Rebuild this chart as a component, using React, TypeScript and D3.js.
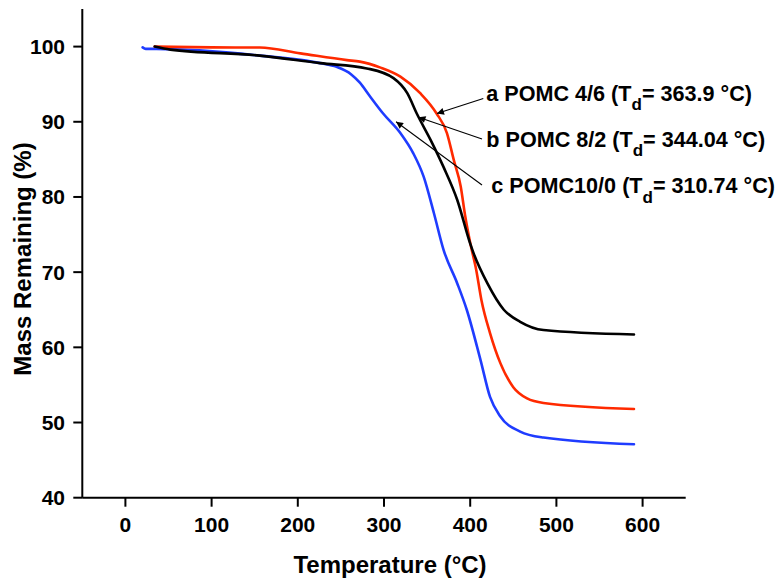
import React from "react";
import * as d3 from "d3";

const W = 783;
const H = 582;

// POMC 4/6 (red)
const tempA = [34, 100, 156, 203, 257, 272, 296, 319, 342, 361, 373, 381, 389, 394, 400, 407, 413, 423, 435, 450, 466, 485, 590];
const massA = [100, 99.9, 99.87, 99.1, 98.2, 98.0, 97.2, 96.0, 93.8, 91.1, 88.5, 84.9, 81.4, 77.6, 73.9, 70.3, 66.3, 61.9, 57.9, 54.7, 53.2, 52.6, 51.8];

// POMC 8/2 (black)
const tempB = [34, 52, 156, 226, 280, 311, 327, 338, 354, 369, 385, 400, 404, 420, 439, 458, 485, 590];
const massB = [100, 99.6, 98.8, 97.8, 97.1, 95.8, 93.8, 91.1, 87.6, 84.0, 79.6, 73.8, 72.5, 68.5, 65.0, 63.4, 62.3, 61.7];

// POMC10/0 (blue)
const tempC = [20, 23.6, 36, 156, 226, 245, 262, 272, 283, 299, 319, 334, 346, 358, 369, 385, 396, 412, 423, 435, 458, 485, 590];
const massC = [99.9, 99.7, 99.7, 98.8, 97.8, 97.3, 96.3, 95.2, 93.5, 91.1, 88.5, 85.8, 82.7, 77.8, 73.0, 68.5, 65.0, 58.3, 53.4, 50.8, 48.8, 48.0, 47.1];

const xTicks = [0, 100, 200, 300, 400, 500, 600];
const yTicks = [40, 50, 60, 70, 80, 90, 100];

// annotations
const annLetters = ["a", "b", "c"];
const annNames = ["POMC 4/6 (T", "POMC 8/2 (T", "POMC10/0 (T"];
const annValues = ["= 363.9 °C)", "= 344.04 °C)", "= 310.74 °C)"];
const annTextX = [418.7, 418.7, 424.5];
const annTextY = [92.8, 86.65, 80.5];
const annTailX = [415.2, 413.7, 413.7];
const annTailY = [93.1, 87.7, 81.6];
const annTipX = [361.4, 340, 314];
const annTipY = [91.1, 90.6, 90.0];

const seriesColors = ["#ff2a00", "#000000", "#1f3cff"];

export default function App() {
  const x = d3.scaleLinear().domain([-50, 650]).range([82.3, 685.7]);
  const y = d3.scaleLinear().domain([40, 105]).range([497.7, 9]);

  const line = d3
    .line<[number, number]>()
    .x((d) => x(d[0]))
    .y((d) => y(d[1]))
    .curve(d3.curveMonotoneX);

  const series = [
    d3.zip(tempA, massA) as [number, number][],
    d3.zip(tempB, massB) as [number, number][],
    d3.zip(tempC, massC) as [number, number][],
  ];
  const drawOrder = [2, 0, 1];

  const font = "'Liberation Sans', Arial, Helvetica, sans-serif";

  return (
    <svg
      width={W}
      height={H}
      style={{ position: "absolute", left: 0, top: 0, background: "#fff" }}
      fontFamily={font}
    >
      <defs>
        <marker
          id="arrowHead"
          viewBox="0 0 10 10"
          refX="10"
          refY="5"
          markerWidth="10"
          markerHeight="7"
          markerUnits="userSpaceOnUse"
          orient="auto"
        >
          <path d="M0,0 L10,5 L0,10 z" fill="#000" />
        </marker>
      </defs>
      <rect width={W} height={H} fill="#fff" />

      {/* curves */}
      {drawOrder.map((i) => (
        <path
          key={i}
          d={line(series[i]) || ""}
          fill="none"
          stroke={seriesColors[i]}
          strokeWidth={2.6}
          strokeLinejoin="round"
          strokeLinecap="round"
        />
      ))}

      {/* axes */}
      <line x1={x(-50)} x2={x(650)} y1={y(40)} y2={y(40)} stroke="#000" strokeWidth={2} />
      <line x1={x(-50)} x2={x(-50)} y1={y(40)} y2={y(105)} stroke="#000" strokeWidth={2} />
      {xTicks.map((t) => (
        <g key={"xt" + t}>
          <line x1={x(t)} x2={x(t)} y1={y(40)} y2={y(40) + 9} stroke="#000" strokeWidth={2} />
          <text
            x={x(t)}
            y={531.5}
            textAnchor="middle"
            fontSize={21}
            fontWeight="bold"
          >
            {t}
          </text>
        </g>
      ))}
      {yTicks.map((t) => (
        <g key={"yt" + t}>
          <line x1={x(-50) - 9} x2={x(-50)} y1={y(t)} y2={y(t)} stroke="#000" strokeWidth={2} />
          <text
            x={65}
            y={y(t) + 7.5}
            textAnchor="end"
            fontSize={21}
            fontWeight="bold"
          >
            {t}
          </text>
        </g>
      ))}

      <text x={390} y={573} textAnchor="middle" fontSize={24} fontWeight="bold">
        Temperature (°C)
      </text>
      <text
        transform={`translate(31, 259) rotate(-90)`}
        textAnchor="middle"
        fontSize={24}
        fontWeight="bold"
      >
        Mass Remaining (%)
      </text>

      {/* annotations */}
      {annLetters.map((l, i) => (
        <g key={"ann" + i}>
          <line
            x1={x(annTailX[i])}
            y1={y(annTailY[i])}
            x2={x(annTipX[i])}
            y2={y(annTipY[i])}
            stroke="#000"
            strokeWidth={1.1}
            markerEnd="url(#arrowHead)"
          />
          <text x={x(annTextX[i])} y={y(annTextY[i])} fontSize={21.6} fontWeight="bold">
            {l + " " + annNames[i]}
            <tspan dy={9.5} fontSize={17}>d</tspan>
            <tspan dy={-9.5}>{annValues[i]}</tspan>
          </text>
        </g>
      ))}
    </svg>
  );
}
